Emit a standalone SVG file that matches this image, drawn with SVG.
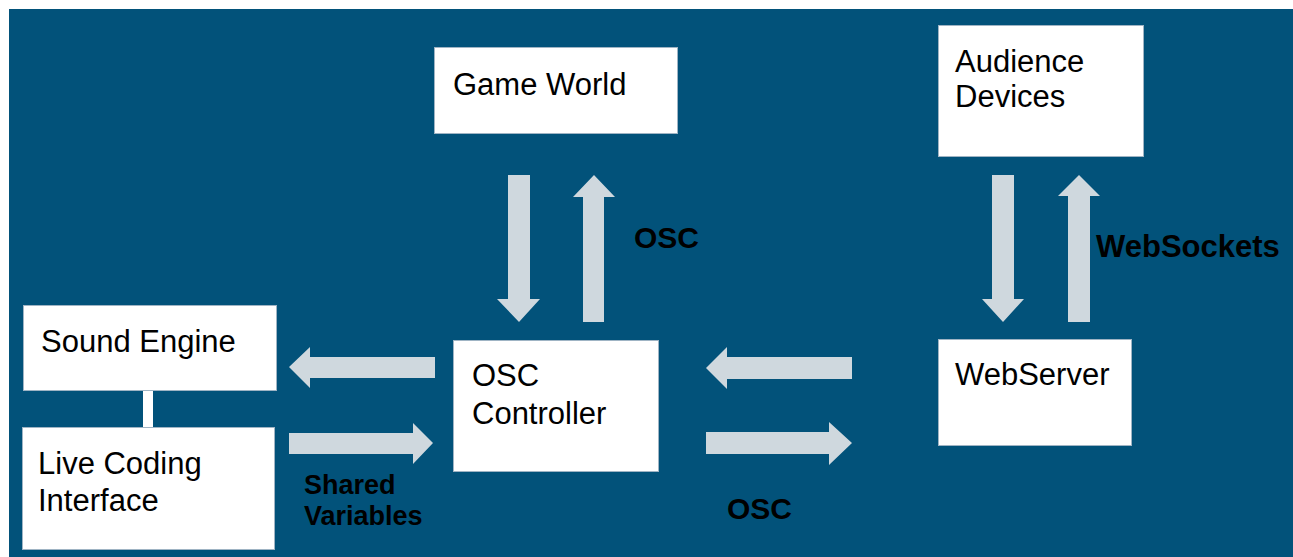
<svg xmlns="http://www.w3.org/2000/svg" width="1293" height="557" viewBox="0 0 1293 557">
<style>
.box{fill:#ffffff;stroke:#9fb4c4;stroke-width:1}
.t{font-family:"Liberation Sans",Arial,sans-serif;font-size:31px;fill:#000}
.lb{font-family:"Liberation Sans",Arial,sans-serif;font-weight:bold;fill:#000}
.arr{fill:#cfd8de}
</style>
<rect x="0" y="0" width="1293" height="557" fill="#ffffff"/>
<rect x="9" y="9" width="1284" height="548" fill="#02527a"/>
<g id="connectors">
<rect x="143" y="390" width="10" height="38" fill="#ffffff"/>
<!-- Game World down -->
<polygon class="arr" points="508,175 530,175 530,299 540,299 519,322 497,299 508,299"/>
<!-- Game World up -->
<polygon class="arr" points="583,322 604,322 604,197 615,197 594,175 573,197 583,197"/>
<!-- Audience down -->
<polygon class="arr" points="992,175 1014,175 1014,299 1024,299 1003,322 982,299 992,299"/>
<!-- Audience up -->
<polygon class="arr" points="1068,322 1090,322 1090,196 1100,196 1079,175 1058,196 1068,196"/>
<!-- Controller -> Sound Engine -->
<polygon class="arr" points="435,357 435,378 310,378 310,388 289,367 310,347 310,357"/>
<!-- Live Coding -> Controller -->
<polygon class="arr" points="289,433 413,433 413,423 433,443 413,464 413,454 289,454"/>
<!-- WebServer -> Controller -->
<polygon class="arr" points="852,357 852,379 727,379 727,389 706,368 727,347 727,357"/>
<!-- Controller -> WebServer -->
<polygon class="arr" points="706,432 829,432 829,422 852,443 829,465 829,454 706,454"/>
<text class="lb" x="634" y="248" font-size="30">OSC</text>
<text class="lb" x="1096" y="257" font-size="31">WebSockets</text>
<text class="lb" x="727" y="519" font-size="30">OSC</text>
<text class="lb" x="304" y="494" font-size="27">Shared</text>
<text class="lb" x="304" y="525" font-size="27">Variables</text>
</g>
<g id="game-world">
<rect class="box" x="434.5" y="47.5" width="243" height="86"/>
<text class="t" x="453" y="95">Game World</text>
</g>
<g id="audience-devices">
<rect class="box" x="938.5" y="25.5" width="205" height="131"/>
<text class="t" x="955" y="72">Audience</text>
<text class="t" x="955" y="107">Devices</text>
</g>
<g id="sound-engine">
<rect class="box" x="23.5" y="305.5" width="253" height="85"/>
<text class="t" x="41" y="352">Sound Engine</text>
</g>
<g id="live-coding-interface">
<rect class="box" x="22.5" y="427.5" width="252" height="122"/>
<text class="t" x="38" y="474">Live Coding</text>
<text class="t" x="38" y="511">Interface</text>
</g>
<g id="osc-controller">
<rect class="box" x="453.5" y="340.5" width="205" height="131"/>
<text class="t" x="472" y="386">OSC</text>
<text class="t" x="472" y="424">Controller</text>
</g>
<g id="webserver">
<rect class="box" x="938.5" y="339.5" width="193" height="106"/>
<text class="t" x="955" y="385">WebServer</text>
</g>
</svg>
